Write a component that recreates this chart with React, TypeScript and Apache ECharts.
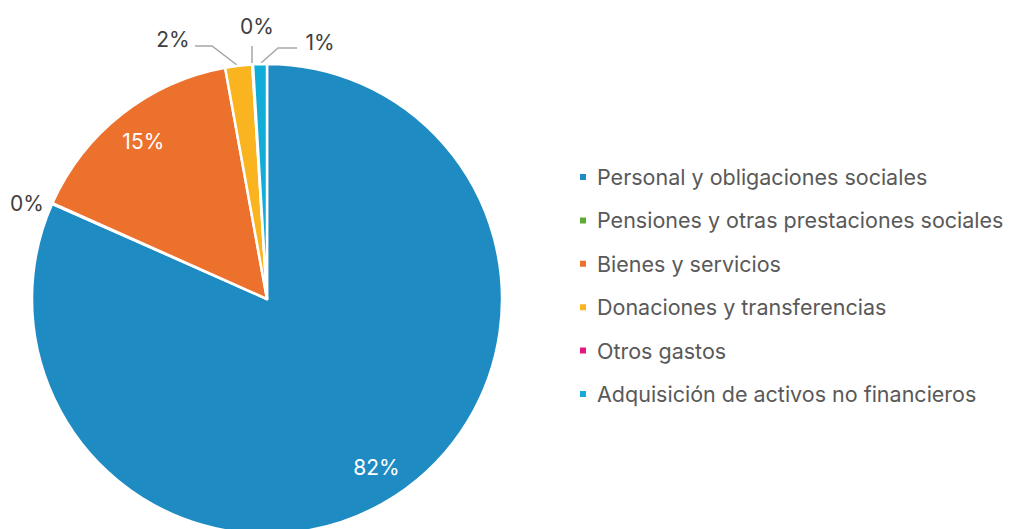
import React, { useEffect, useRef } from "react";
import * as echarts from "echarts";

const categories = [
  "Personal y obligaciones sociales",
  "Pensiones y otras prestaciones sociales",
  "Bienes y servicios",
  "Donaciones y transferencias",
  "Otros gastos",
  "Adquisición de activos no financieros",
];
const values = [81.6, 0.05, 15.45, 1.85, 0.05, 0.95];
const colors = ["#1F8BC3", "#5DAA35", "#EC712C", "#F9B420", "#E0177F", "#12ACD8"];

// label placement for small slices (outside labels, Excel style)
const outsideLabels: Record<number, { x: number; y: number; line: number[][] | null }> = {
  1: { x: 27, y: 203, line: null },
  3: { x: 173, y: 39, line: [[195, 46], [212, 46], [237, 65]] },
  4: { x: 257, y: 26, line: [[252, 46], [252, 63]] },
  5: { x: 320, y: 42, line: [[297, 48], [278, 48], [261, 63]] },
};

export default function App() {
  const ref = useRef<HTMLDivElement>(null);
  useEffect(() => {
    document.body.style.margin = "0";
    const chart = echarts.init(ref.current!, null, { renderer: "svg" });
    const font = "Inter, 'Noto Sans', sans-serif";
    const mainData = categories.map((name, i) => ({
      name,
      value: values[i],
      itemStyle: { color: colors[i] },
      label: { show: outsideLabels[i] !== undefined },
      labelLine: { show: !!(outsideLabels[i] && outsideLabels[i].line) },
    }));
    const innerData = categories.map((name, i) => ({
      name,
      value: values[i],
      label: { show: values[i] > 10 },
    }));
    chart.setOption({
      animation: false,
      legend: {
        orient: "vertical",
        left: 573,
        top: 161,
        icon: "rect",
        itemWidth: 8,
        itemHeight: 8,
        itemGap: 21.4,
        data: categories,
        textStyle: {
          fontFamily: font,
          fontSize: 21.5,
          lineHeight: 20,
          color: "#595959",
          padding: [0, 0, 0, 5],
        },
      },
      series: [
        {
          type: "pie",
          center: [267, 299],
          radius: [0, 235],
          startAngle: 90,
          clockwise: true,
          percentPrecision: 0,
          avoidLabelOverlap: false,
          silent: true,
          itemStyle: { borderColor: "#ffffff", borderWidth: 2.5 },
          label: {
            position: "outside",
            formatter: "{d}%",
            fontFamily: font,
            fontSize: 21,
            color: "#404040",
          },
          labelLine: { lineStyle: { color: "#A6A6A6", width: 1.5 } },
          labelLayout: (params: any) => {
            const o = outsideLabels[params.dataIndex];
            if (!o) return {};
            const res: any = { x: o.x, y: o.y, align: "center", verticalAlign: "middle" };
            if (o.line) res.labelLinePoints = o.line;
            return res;
          },
          data: mainData,
        },
        {
          type: "pie",
          center: [267, 299],
          radius: [160, 235],
          startAngle: 90,
          clockwise: true,
          percentPrecision: 0,
          silent: true,
          itemStyle: { color: "rgba(0,0,0,0)", borderWidth: 0 },
          label: {
            position: "inside",
            formatter: "{d}%",
            fontFamily: font,
            fontSize: 21,
            color: "#ffffff",
          },
          labelLine: { show: false },
          data: innerData,
        },
      ],
    });
    return () => chart.dispose();
  }, []);
  return <div ref={ref} style={{ width: 1009, height: 529 }} />;
}
